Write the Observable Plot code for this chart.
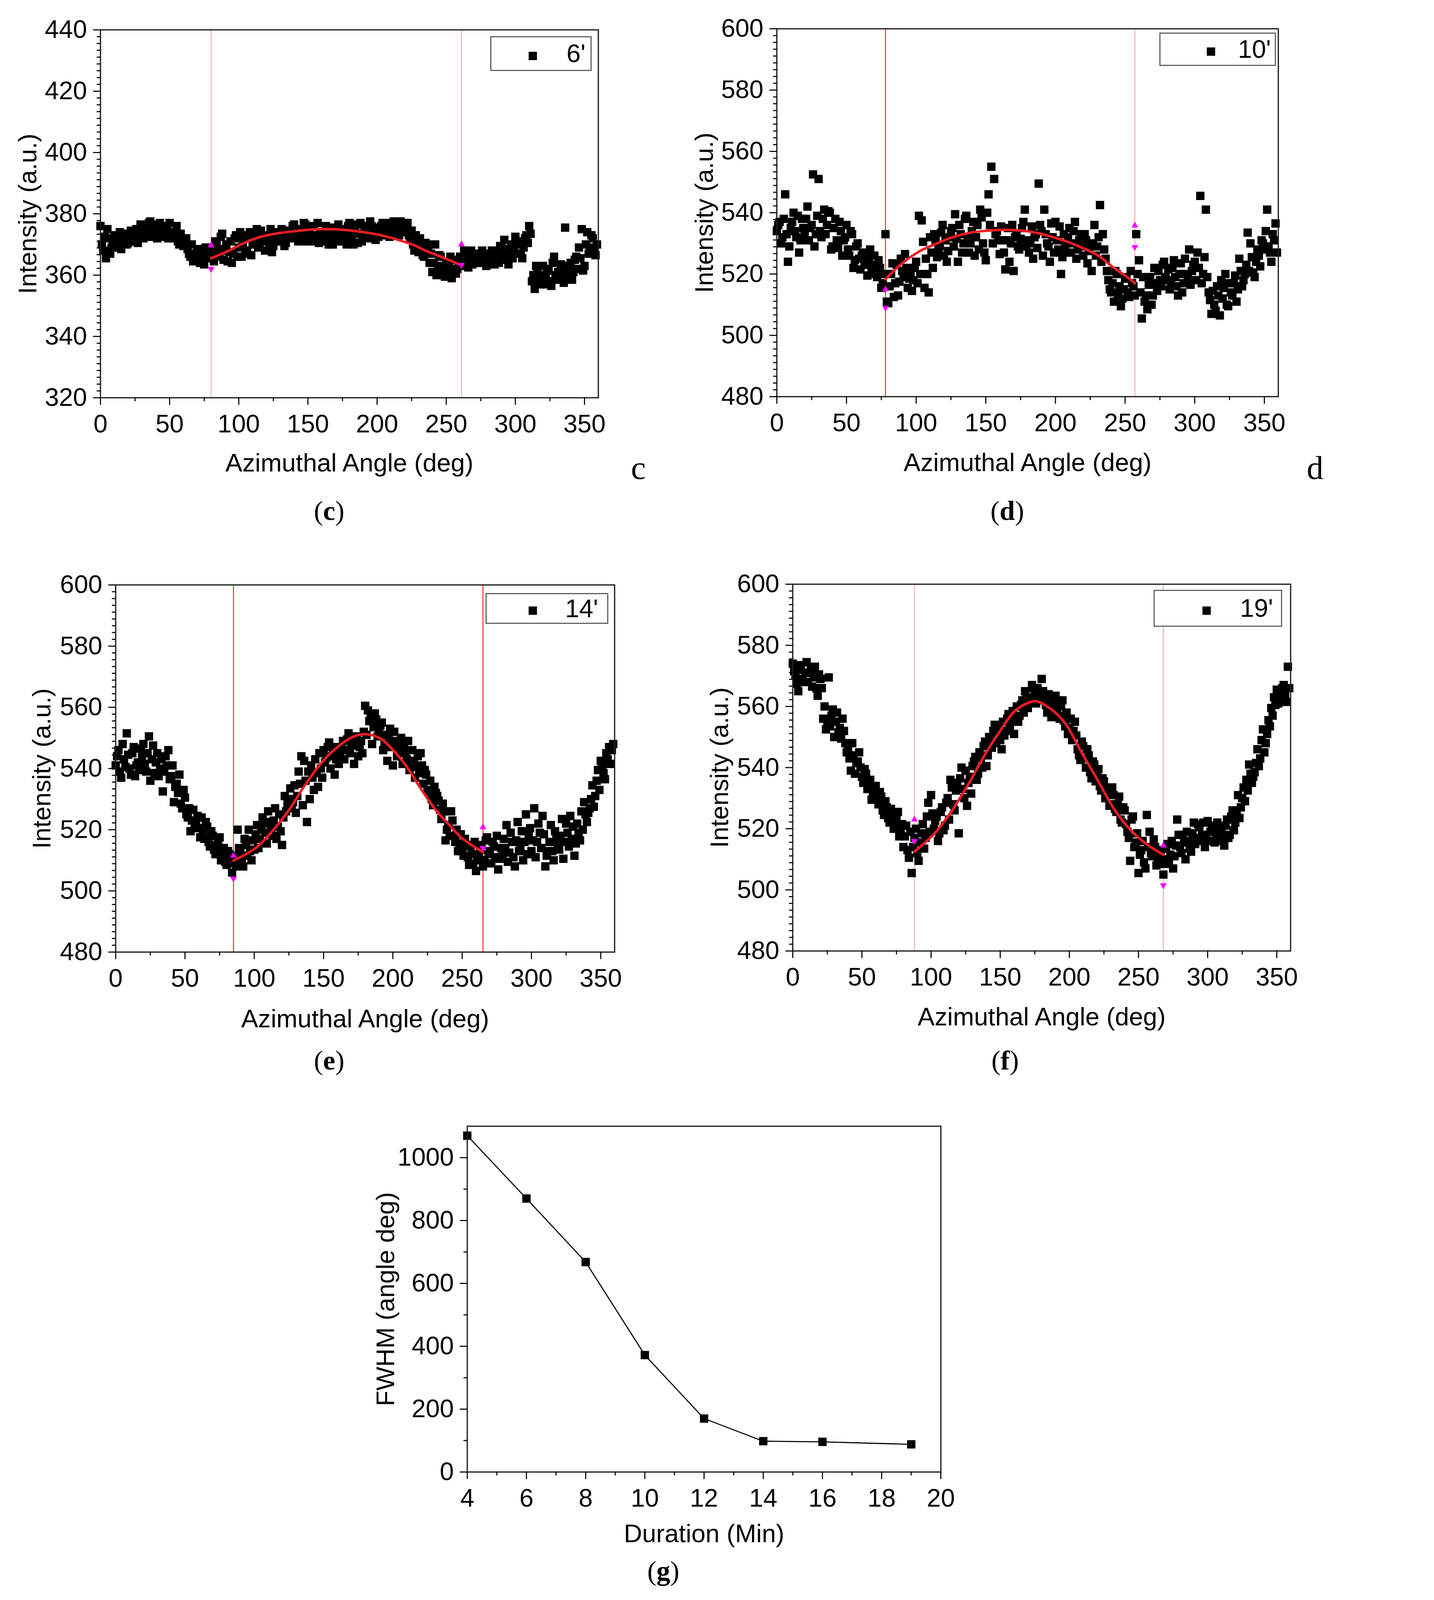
<!DOCTYPE html>
<html><head><meta charset="utf-8">
<script src="https://cdn.jsdelivr.net/npm/d3@7"></script>
<script src="https://cdn.jsdelivr.net/npm/@observablehq/plot@0.6"></script>
<style>
html,body{margin:0;padding:0;background:#fff;overflow:hidden;}
#page{position:relative;width:3671px;height:4419px;overflow:hidden;background:#fff;}
.legend{position:absolute;border:3px solid #555;background:#fff;box-sizing:border-box;font-family:"Liberation Sans",Arial,sans-serif;font-size:70px;color:#000;}
.legend .mk{position:absolute;width:23px;height:23px;background:#000;}
.legend .tx{position:absolute;line-height:1;white-space:nowrap;}
.lbl{position:absolute;font-family:"Liberation Serif","Times New Roman",serif;transform:translate(-50%,-50%);white-space:nowrap;color:#000;line-height:1;}
</style></head><body><div id="page"></div>
<script>
// ---------- data ----------
const angles = [0,2,4,6,8,10,12,14,16,18,20,22,24,26,28,30,32,34,36,38,40,42,44,46,48,50,52,54,56,58,60,62,64,66,68,70,72,74,76,78,80,82,84,86,88,90,92,94,96,98,100,102,104,106,108,110,112,114,116,118,120,122,124,126,128,130,132,134,136,138,140,142,144,146,148,150,152,154,156,158,160,162,164,166,168,170,172,174,176,178,180,182,184,186,188,190,192,194,196,198,200,202,204,206,208,210,212,214,216,218,220,222,224,226,228,230,232,234,236,238,240,242,244,246,248,250,252,254,256,258,260,262,264,266,268,270,272,274,276,278,280,282,284,286,288,290,292,294,296,298,300,302,304,306,308,310,312,314,316,318,320,322,324,326,328,330,332,334,336,338,340,342,344,346,348,350,352,354,356,358];
const anglesOdd = [1,3,5,7,9,11,13,15,17,19,21,23,25,27,29,31,33,35,37,39,41,43,45,47,49,51,53,55,57,59,61,63,65,67,69,71,73,75,77,79,81,83,85,87,89,91,93,95,97,99,101,103,105,107,109,111,113,115,117,119,121,123,125,127,129,131,133,135,137,139,141,143,145,147,149,151,153,155,157,159,161,163,165,167,169,171,173,175,177,179,181,183,185,187,189,191,193,195,197,199,201,203,205,207,209,211,213,215,217,219,221,223,225,227,229,231,233,235,237,239,241,243,245,247,249,251,253,255,257,259,261,263,265,267,269,271,273,275,277,279,281,283,285,287,289,291,293,295,297,299,301,303,305,307,309,311,313,315,317,319,321,323,325,327,329,331,333,335,337,339,341,343,345,347,349,351,353,355,357,359];

// 6 min
const intensity6 = [
376,368,365.5,372,369,373,370,374,371,373,
370.5,374.5,372,375,373,374,376,373,377.5,374,
376.5,373,375,372.5,376,377,373,374,371,373.5,
369.5,372,367,370,365,368.5,364,367,369,365.5,
368,364.5,370.5,366,373.5,368,364.5,371,367,373,
369,366,372,368,374,370,372,369,374.5,371,
373,370.5,367.5,372,374,371,373,370.5,374.5,372,
376.5,373,375,372,376.5,374,371.5,376,373,370.5,
374,371,375,372.5,370,373,376.5,371,374,370,
377,372,375,370.5,377,373,375,372,376,373,
375.5,374,377,373,376,374.5,377.5,375,373,376,
374,377,372,370,373,367.5,369,366,370,364,
361,370,362,366,361.5,364,363,359,365,362,
366,363,367,362.5,368,365.5,367,364,368,366,
363.5,367,365,368,364,369,371.5,366,368.5,365.5,
372.5,370,367,369,373,376,358,355.5,361,357,
363,359,361.5,356.5,366,360,358.5,362,375.5,359.5,
364,361,366,369,375,363,374,369,372,366.5];
const intensity6Odd = [
370,372.5,375,367,371.5,369,372.5,368.5,373.5,370,
372,371,374,370.5,376.5,372,374.5,377,372.5,375.5,
372,377,373.5,375,372,374,372,376,370,372,
371,368.5,366,364.5,367,365,368,363.5,366.5,368,
366,371,368.5,372.5,365,370,367.5,364,372,366,
374,370.5,367,373,366.5,372.5,375,370,372,368,
372.5,375,369.5,373,371,375,369.5,372.5,373.5,376,
374.5,371,373.5,377,371,375.5,373,371,377,374,
372,376,370,373.5,375.5,371,373,375,372,376,
374,370,376.5,373.5,371,376,372.5,377.5,374,371.5,
372.5,376,374,377,372.5,375.5,373,376.5,377.5,374,
375.5,373,374.5,368,371,372,366.5,370.5,368,367,
364,360,366.5,363,359.5,361.5,366,362,360.5,364,
364.5,368,365,367.5,363.5,366,364,367,365,363,
366,368,363.5,366.5,369.5,365,367,363.5,370,368,
367,371,365.5,372,370.5,373.5,360,363,357.5,360,
357,362,358,364,359,361,363.5,357.5,361,363,
358.5,365,362,365.5,361.5,370,367,373,368,370];

// 10 min
const intensity10 = [
534,537,532,546,524,535,540,532,527,538,
533,542,535,552.5,533,551,532,541,536,540,
529,538,528.5,534,531,536,526,533,524.5,530,
521.5,527,523,525.5,521,526,519,522,517,533,
510.5,520,512.5,523,517.5,521,526.5,515.5,520,518,
524,539,537.5,515.5,520,532,522,531,528,533.5,
526,524,532,535,539.5,524,533,530,539,527,
534,526,536,541,530,524.5,546,555,551,534,
526.5,531,521.5,535,530,521,533,528,535,541,
531,530,525,533,549.5,534,541,530,524,532,
537,528,520,533,527,535,530,537,528,533,
526,531,527.5,521,536,529,542.5,533,525,518,
514,511,520,516,512,518.5,514,521,516,533,
524.5,505.5,511,508.5,519,513,517,521,516,524,
518,515,522,519,513,523.5,517,520,528,521,
524,527,545.5,520,541,514,507,510,516,506.5,
512,520,509.5,514,517,511,525,516,520,533.5,
530,520.5,524,526,531,528,541,527,533,536.5];
const intensity10Odd = [
536,530,538,533,529,537,534,539,531,535,
538,531,536,529,539,534,538,533,540.5,528,
535,531,537,526,532,528,534,522,529,525,
526,523.5,519.5,528,523,520,524.5,515.5,520,511,
516,523.5,517,513,525,519,522,518.5,514.5,522,
517,520,530.5,525,514,527,533,525.5,529,536,
531,527.5,534,529,531.5,536,527,538,532,530,
537,532,528,538.5,527,540,536,530,533,531,
535.5,527,531,524,536,532,529,531.5,537,529,
527,535.5,532,528.5,536,526,533,529,536.5,527,
531,535.5,525.5,529.5,532,527,534,525,531,529,
533,523.5,529,530,526,532,524,528,521,515,
517,521,513.5,509.5,515,519,512.5,517,513,520,
514,519,513,516.5,510,522,514.5,518,523,519,
521.5,517,524.5,516,520,514,525,518.5,516.5,523,
518,522,517,525.5,519,511.5,514.5,508,513,518,
515.5,510,517,513,519.5,515,521,518,523,521,
525.5,519,528,522.5,530,534,529,524,531,527];

// 14 min
const intensity14 = [
541,546,537,543,551.5,540,545,537.5,542,546.5,
548,539,550.5,543,538.5,545,540,532.5,544,546,
537.5,529,535,538,527,530.5,524,519.5,526.5,522,
520.5,524,517,521,514.5,518,512,516,510,514,
508.5,512,506,510,520,513,508,515,520,510,
513.5,521.5,517,524,519,526,520.5,523,517,525,
515,531,528.5,533.5,529,525.5,539,544,542.5,522.5,
530,537,543,534,540,546,543.5,548.5,544,538,
547,544,549,546,551.5,548,541.5,550,547,545,
560.5,559,557,553.5,556,552,555,548,542.5,553,
541,549,545.5,550,547,543,539.5,546,537,544,
545,535,538,532.5,530,534,531,526.5,528.5,516.5,
521.5,526,518,520,515.5,513,517,511,514.5,509,
506.5,512,515,510,517.5,513,516,511,507,514,
517,521.5,512.5,516,508,522.5,514,510,525,518,
513,527,516,519,524.5,508,513,521.5,510,517,
513.5,523.5,516,519,524.5,521,515.5,519,526,529,
522.5,527,534.5,531,539.5,542.5,538.5,545,547,546];
const intensity14Odd = [
544,539,548,540.5,544.5,538,547,541,539.5,544,
541.5,545,536,547.5,542,537.5,543,539,541,536.5,
541,534,532,528.5,533,525,527,523,521,524.5,
517.5,519,522.5,516,519.5,513.5,515,517.5,512.5,509.5,
513,509,511.5,508,514,510.5,517,511.5,513,516.5,
518.5,514,520,522,515.5,522.5,518,527,521,519.5,
524,526,530,527,534.5,531,535,528,536,539,
541,533,538.5,545,537,542,547,540,546,543,
541.5,546.5,543,549.5,545,547.5,550.5,544,549,552,
551,555.5,548,558,550.5,554,546,551,549.5,547,
552,544,547.5,541.5,545,549,541,542.5,540.5,538.5,
541,539.5,533,536,528,532,529.5,523.5,526,520,
518,523,516,513,518.5,511.5,515,508.5,512,516,
510,513.5,508,516.5,512,509,514.5,518,510.5,512,
514,509.5,519,511,516.5,513,519.5,516,512,520.5,
516.5,511,522,514,518.5,511.5,516,513,519.5,514.5,
518,510.5,522,514.5,517,511.5,522,516.5,520,525,
525.5,530,527.5,536,533,541,536.5,543,541.5,548];

// 19 min
const intensity19 = [
574,570,565,572,568,574.5,571,566.5,573,563.5,
569,556,552.5,569.5,557,550,558,553,556,548,
546,539,544,541.5,545,537,539.5,533,536,531.5,
534,528,530.5,524.5,527,522,525,521,525.5,519,
514,521,510.5,505.5,517,512,515.5,521.5,517,528.5,
531,520,524,518.5,527,521,530,536,528,532.5,
518.5,540,530,527.5,537,540.5,543.5,538,543,547,
540.5,550,546.5,554,551,549,555,552,557.5,555,
551,560,557,562,565,559.5,563,566,561,564,
569,562,558,561.5,559,563.5,557,560,555.5,558,
553,549,555,546,542.5,547,540,544,536.5,541,
538,534,536.5,530,533,528,531,525.5,530.5,522,
526,519,509.5,524,515.5,505.5,513,509,524.5,519,
511,514,509.5,512,505,513.5,509,516,511,523,
514,518,510,516,512.5,522,517,520.5,518,514,
522.5,519,520,517.5,521,519.5,514.5,523,518,526,
522,531,527,533.5,536,541,535,538.5,546,543,
552.5,548,555.5,559.5,563,565.5,562,566,564,573];
const intensity19Odd = [
571.5,567.5,573.5,569,571,568,572,569.5,566,570.5,
566,560,555,553.5,559,555,551.5,549.5,552,545,
543,548,538,542,540,535,538,534.5,529.5,533,
530,532,526,529,523.5,526.5,520,523,517.5,521.5,
517.5,513,519,514,520,509.5,518.5,513.5,524,519,
525,522.5,516,525.5,519.5,528.5,523,533.5,526,535,
536.5,533,539,535,531.5,542,536,545,540,548.5,
544,547.5,552,548,553,546,550.5,556,553.5,558.5,
556,555,560.5,558,563,561,567,563.5,566,562.5,
565,560.5,564,556.5,561,558.5,556,562,553.5,551,
556,552,550.5,544,548.5,543,546,538.5,542,535.5,
539.5,532.5,535.5,532,527.5,533.5,526.5,528,523,527,
521.5,517,523,514,518.5,511.5,516,507,514,512,
516.5,508,513,510,508.5,515,511.5,507,514.5,518,
512,515.5,519,513.5,518.5,515,521.5,516,522,517,
516,521,515.5,522,518.5,516,521,517,524,519.5,
525,523.5,530,529,532.5,538,537,541.5,540.5,549,
545,551,553.5,557,560.5,561,564,567,561.5,566];

// fitted curves
const fit6X = [80,91,104,116,129,142,154,167,180,192,204,216,226,236,249,261];
const fit6Y = [365.5,367.6,370.5,372.5,373.7,374.4,374.9,375,374.6,373.9,372.9,371.4,369.9,367.8,365.5,363.2];
const fit10X = [78,90,102,114,126,138,150,162,175,187,200,210,218,230,242,250,257];
const fit10Y = [518.3,523.5,527.3,529.8,532,533.4,534.1,534.4,534.2,533.4,531.8,530.3,528.8,526.2,522,519.5,517];
const fit14X = [85,101,113,125,136,148,160,172,181,191,200,210,219,231,241,250,265];
const fit14Y = [509.9,514,519.5,526.4,534.2,541.6,547,550.5,551.2,549.8,546.1,540.6,534.2,526.4,521.4,517.2,512.7];
const fit19X = [88,102,114,126,138,149,161,171,176,185,197,208,220,232,244,256,268];
const fit19Y = [512.5,518.2,525.2,533.8,543.5,551.4,558.7,561.3,561.7,559.7,554.5,545.6,536.3,526.7,519.7,514.9,511.5];

// fit window limits and limit markers (angle, upper, lower)
const limits6 = [80, 261], limits10 = [78, 257], limits14 = [85, 265], limits19 = [88, 268];
const mark6 = [[80,369.7,362],[261,370,363.3]];
const mark10 = [[78,515,509],[257,535.8,528.8]];
const mark14 = [[85,511.5,504],[265,520.8,514]];
const mark19 = [[88,523,516],[268,514.5,501.5]];

// FWHM vs duration
const duration = [4,6,8,10,12,14,16,19];
const fwhm = [1070,870,668,372,170,98,96,88];

// ticks
const angleTicks = [0,50,100,150,200,250,300,350];
const ticks6 = [320,340,360,380,400,420,440];
const ticksHigh = [480,500,520,540,560,580,600];
const durationTicks = [4,6,8,10,12,14,16,18,20];
const fwhmTicks = [0,200,400,600,800,1000];

// ---------- drawing ----------
const FONT = '"Liberation Sans", Arial, Helvetica, sans-serif';
const page = document.getElementById("page");
const RED = "#ee1c24", PINK = "#f6b4b4", LINERED = "#f04040", MAG = "#ff00ff";

// fit whole figure into the photographed viewport
const fitScale = Math.min(1, window.innerWidth / 3671, window.innerHeight / 4419);
if (fitScale < 1) {
  page.style.transformOrigin = "0 0";
  page.style.transform = `scale(${fitScale})`;
}

function minorBetween(majors, n) {
  const out = [];
  for (let i = 0; i < majors.length - 1; i++) {
    const a = majors[i], b = majors[i + 1];
    for (let k = 1; k < n; k++) out.push(a + (b - a) * k / n);
  }
  return out;
}

function panel(cfg) {
  const mL = 340, mR = 30, mT = 30, mB = 280;
  const W = cfg.R - cfg.L, H = cfg.B - cfg.T;
  const svg = Plot.plot({
    width: W + mL + mR, height: H + mT + mB,
    marginLeft: mL, marginRight: mR, marginTop: mT, marginBottom: mB,
    style: {fontFamily: FONT, fontSize: "70px", background: "transparent", color: "#000", overflow: "visible", maxWidth: "none"},
    x: {domain: cfg.xDomain},
    y: {domain: cfg.yDomain},
    marks: [
      ...cfg.marks,
      Plot.frame({stroke: "#222", strokeWidth: 3.5}),
      Plot.axisX({ticks: cfg.xMinor, tickSize: 10, strokeWidth: 3, tickFormat: () => "", label: null}),
      Plot.axisY({ticks: cfg.yMinor, tickSize: 10, strokeWidth: 3, tickFormat: () => "", label: null}),
      Plot.axisX({ticks: cfg.xTicks, tickSize: 20, strokeWidth: 3, tickPadding: 26, tickFormat: d => String(d),
        label: cfg.xLabel, labelAnchor: "center", labelOffset: cfg.xLabelOffset, labelArrow: "none", fontSize: 70}),
      Plot.axisY({ticks: cfg.yTicks, tickSize: 20, strokeWidth: 3, tickPadding: 17, tickFormat: d => String(d),
        label: cfg.yLabel, labelAnchor: "center", labelOffset: cfg.yLabelOffset, labelArrow: "none", fontSize: 70})
    ]
  });
  svg.style.position = "absolute";
  svg.style.left = (cfg.L - mL) + "px";
  svg.style.top = (cfg.T - mT) + "px";
  page.appendChild(svg);
}

function scatterMarks(values, valuesOdd, fitX, fitY, limits, colors, marks) {
  const pts = angles.map((a, i) => ({a, v: values[i]}))
    .concat(anglesOdd.map((a, i) => ({a, v: valuesOdd[i]})));
  const fit = fitX.map((a, i) => ({a, v: fitY[i]}));
  return [
    Plot.ruleX([limits[0]], {stroke: colors[0], strokeWidth: 3}),
    Plot.ruleX([limits[1]], {stroke: colors[1], strokeWidth: 3}),
    Plot.dot(pts, {x: "a", y: "v", symbol: "square", r: 13, fill: "#000", stroke: "none"}),
    Plot.line(fit, {x: "a", y: "v", stroke: RED, strokeWidth: 7, curve: "catmull-rom"}),
    Plot.dot(marks, {x: d => d[0], y: d => d[1], symbol: "triangle", r: 7, fill: MAG, stroke: "none"}),
    Plot.dot(marks, {x: d => d[0], y: d => d[2], symbol: "triangle", r: 7, fill: MAG, stroke: "none", rotate: 180})
  ];
}

const angleCfg = {xDomain: [0, 360], xTicks: angleTicks, xMinor: minorBetween(angleTicks, 2), xLabel: "Azimuthal Angle (deg)", yLabel: "Intensity (a.u.)"};

panel({...angleCfg, L: 277, R: 1652, T: 82, B: 1098, yDomain: [320, 440], yTicks: ticks6, yMinor: minorBetween(ticks6, 9),
  xLabelOffset: 204, yLabelOffset: 227,
  marks: scatterMarks(intensity6, intensity6Odd, fit6X, fit6Y, limits6, [PINK, PINK], mark6)});
panel({...angleCfg, L: 2145, R: 3530, T: 79, B: 1095, yDomain: [480, 600], yTicks: ticksHigh, yMinor: minorBetween(ticksHigh, 9),
  xLabelOffset: 206, yLabelOffset: 226,
  marks: scatterMarks(intensity10, intensity10Odd, fit10X, fit10Y, limits10, [LINERED, PINK], mark10)});
panel({...angleCfg, L: 319, R: 1697, T: 1615, B: 2629, yDomain: [480, 600], yTicks: ticksHigh, yMinor: minorBetween(ticksHigh, 9),
  xLabelOffset: 208, yLabelOffset: 230,
  marks: scatterMarks(intensity14, intensity14Odd, fit14X, fit14Y, limits14, [LINERED, LINERED], mark14)});
panel({...angleCfg, L: 2189, R: 3564, T: 1613, B: 2626, yDomain: [480, 600], yTicks: ticksHigh, yMinor: minorBetween(ticksHigh, 9),
  xLabelOffset: 205, yLabelOffset: 228,
  marks: scatterMarks(intensity19, intensity19Odd, fit19X, fit19Y, limits19, [PINK, PINK], mark19)});

const fw = duration.map((d, i) => ({d, f: fwhm[i]}));
panel({L: 1290, R: 2598, T: 3110, B: 4065, xDomain: [4, 20], yDomain: [0, 1100],
  xTicks: durationTicks, xMinor: minorBetween(durationTicks, 2),
  yTicks: fwhmTicks, yMinor: minorBetween(fwhmTicks, 2),
  xLabel: "Duration (Min)", yLabel: "FWHM (angle deg)", xLabelOffset: 194, yLabelOffset: 252,
  marks: [
    Plot.line(fw, {x: "d", y: "f", stroke: "#000", strokeWidth: 3}),
    Plot.dot(fw, {x: "d", y: "f", symbol: "square", r: 13, fill: "#000", stroke: "none"})
  ]});

// legends
function legend(L, T, W, H, mx, tr, text) {
  const box = document.createElement("div");
  box.className = "legend";
  Object.assign(box.style, {left: L + "px", top: T + "px", width: W + "px", height: H + "px"});
  const mk = document.createElement("div");
  mk.className = "mk";
  Object.assign(mk.style, {left: (mx - L - 3 - 11.5) + "px", top: (H / 2 - 3 - 11.5 + 6) + "px"});
  const tx = document.createElement("div");
  tx.className = "tx";
  tx.textContent = text;
  Object.assign(tx.style, {right: (L + W - tr - 3) + "px", top: (H / 2 - 3 - 35) + "px"});
  box.appendChild(mk); box.appendChild(tx);
  page.appendChild(box);
}
legend(1354, 100, 280, 96, 1471, 1617, "6'");
legend(3202, 90, 322, 92, 3344, 3510, "10'");
legend(1341, 1638, 339, 85, 1471, 1652, "14'");
legend(3186, 1629, 355, 102, 3332, 3516, "19'");

// panel captions
function label(x, y, html, size) {
  const d = document.createElement("div");
  d.className = "lbl";
  d.innerHTML = html;
  Object.assign(d.style, {left: x + "px", top: y + "px", fontSize: size + "px"});
  page.appendChild(d);
}
label(909, 1410, "(<b>c</b>)", 76);
label(2782, 1410, "(<b>d</b>)", 76);
label(909, 2928, "(<b>e</b>)", 76);
label(2776, 2928, "(<b>f</b>)", 76);
label(1832, 4338, "(<b>g</b>)", 76);
label(1763, 1292, "c", 92);
label(3632, 1292, "d", 92);
</script></body></html>
